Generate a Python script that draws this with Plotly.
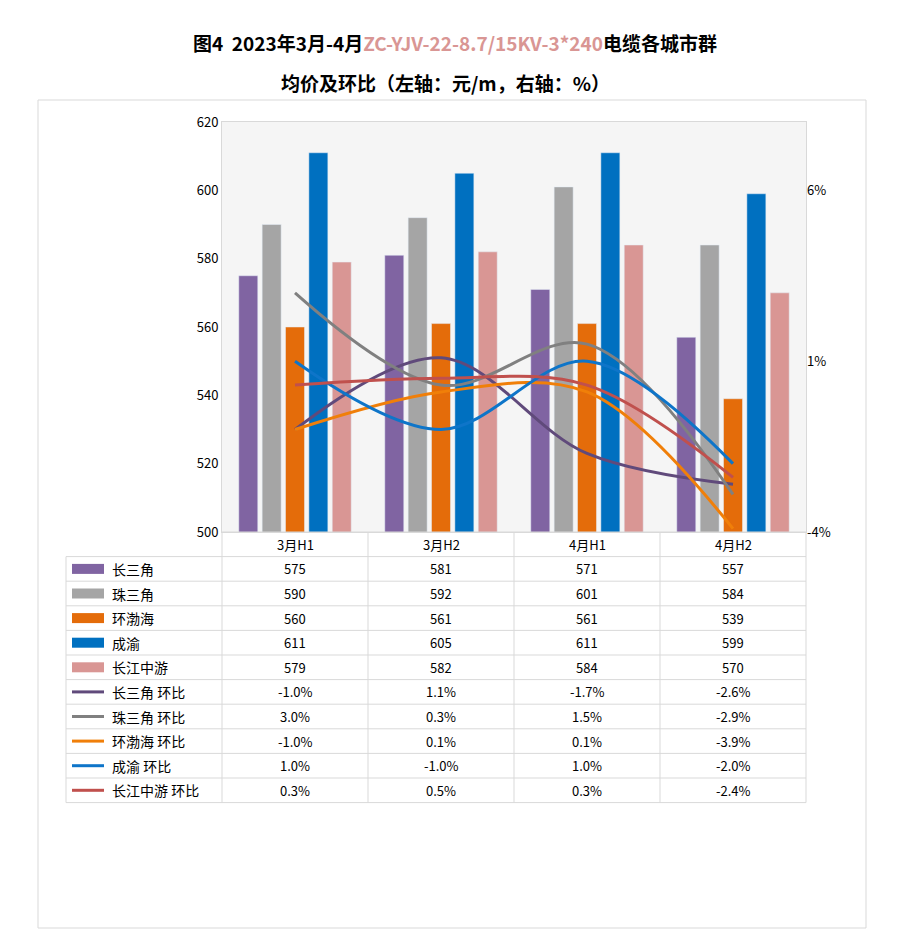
import plotly.graph_objects as go

# data
categories = ["3月H1", "3月H2", "4月H1", "4月H2"]
bar_names = ["长三角", "珠三角", "环渤海", "成渝", "长江中游"]
bar_values = [
    [575, 581, 571, 557],
    [590, 592, 601, 584],
    [560, 561, 561, 539],
    [611, 605, 611, 599],
    [579, 582, 584, 570],
]
line_names = ["长三角 环比", "珠三角 环比", "环渤海 环比", "成渝 环比", "长江中游 环比"]
line_values = [
    [-1.0, 1.1, -1.7, -2.6],
    [3.0, 0.3, 1.5, -2.9],
    [-1.0, 0.1, 0.1, -3.9],
    [1.0, -1.0, 1.0, -2.0],
    [0.3, 0.5, 0.3, -2.4],
]
bar_colors = ["#8064A2", "#A5A5A5", "#E46C0A", "#0070C0", "#D99694"]
line_colors = ["#604A7B", "#808080", "#F07F09", "#0E75C9", "#C0504D"]

FONT = "Noto Sans CJK SC"
W, H = 900, 940
OFF = 8  # page body offset
L, R, T, B = 222, 806, 122, 532


def px(x):
    return (x - L) / (R - L)


def py(y):
    return (B - y) / (B - T)


def label(x, y, text, size=13, xanchor="center"):
    return dict(xref="paper", yref="paper", x=px(x), y=py(y), text=text, showarrow=False,
                xanchor=xanchor, yanchor="middle", font=dict(size=size))


fig = go.Figure()
for name, vals, c in zip(bar_names, bar_values, bar_colors):
    fig.add_trace(go.Bar(x=categories, y=vals, name=name, marker_color=c, width=0.13))
for name, vals, c in zip(line_names, line_values, line_colors):
    fig.add_trace(go.Scatter(x=categories, y=vals, name=name, yaxis="y2", mode="lines",
                             line=dict(color=c, width=3, shape="spline", smoothing=1.0)))

shapes = []
annotations = []

# page frame
shapes.append(dict(type="rect", xref="paper", yref="paper", x0=px(38), x1=px(866), y0=py(928), y1=py(100),
                   line=dict(color="#D9D9D9", width=1), layer="below"))

# table
row_h = 24.6
col_x = [66, 222, 368, 514, 660, 806]
n_rows = 1 + len(bar_names) + len(line_names)
top = B
bottom = B + n_rows * row_h
for i in range(n_rows + 1):
    y = top + i * row_h
    x0 = L if i == 0 else 66
    shapes.append(dict(type="line", xref="paper", yref="paper", x0=px(x0), x1=px(R), y0=py(y), y1=py(y),
                       line=dict(color="#D9D9D9", width=1)))
for j, x in enumerate(col_x):
    y0 = top + row_h if j == 0 else top
    shapes.append(dict(type="line", xref="paper", yref="paper", x0=px(x), x1=px(x), y0=py(y0), y1=py(bottom),
                       line=dict(color="#D9D9D9", width=1)))
for j, cat in enumerate(categories):
    annotations.append(label((col_x[j + 1] + col_x[j + 2]) / 2, top + row_h / 2, cat))

rows = [(n, v, c, "bar") for n, v, c in zip(bar_names, bar_values, bar_colors)]
rows += [(n, v, c, "line") for n, v, c in zip(line_names, line_values, line_colors)]
for i, (name, vals, c, kind) in enumerate(rows):
    yc = top + (i + 1.5) * row_h
    if kind == "bar":
        shapes.append(dict(type="rect", xref="paper", yref="paper", x0=px(72), x1=px(104),
                           y0=py(yc + 5), y1=py(yc - 5), fillcolor=c, line=dict(width=0)))
        texts = [str(v) for v in vals]
    else:
        shapes.append(dict(type="line", xref="paper", yref="paper", x0=px(72), x1=px(104),
                           y0=py(yc), y1=py(yc), line=dict(color=c, width=3)))
        texts = ["%.1f%%" % v for v in vals]
    annotations.append(label(110, yc, name, size=14, xanchor="left"))
    for j, t in enumerate(texts):
        annotations.append(label((col_x[j + 1] + col_x[j + 2]) / 2, yc, t))

# title
annotations.append(label(455, 42, "<b>图4  2023年3月-4月<span style='color:#D99694'>ZC-YJV-22-8.7/15KV-3*240</span>电缆各城市群</b>", size=19))
annotations.append(label(445, 83, "<b>均价及环比（左轴：元/m，右轴：%）</b>", size=19))

fig.update_layout(
    width=W, height=H,
    margin=dict(l=L - OFF, r=W - R + OFF, t=T - OFF, b=H - B + OFF),
    font=dict(family=FONT, color="#000000", size=13),
    paper_bgcolor="white", plot_bgcolor="#F5F5F5",
    showlegend=False, barmode="group", bargap=0.2, bargroupgap=0.1,
    xaxis=dict(showticklabels=False, showline=True, linecolor="#D9D9D9", mirror=True),
    yaxis=dict(range=[500, 620], dtick=20, showgrid=False, showline=True, linecolor="#D9D9D9", mirror=True,
               ticks="", tickfont=dict(size=13)),
    yaxis2=dict(range=[-4, 8], overlaying="y", side="right", tickvals=[-4, 1, 6],
                ticktext=["-4%", "1%", "6%"], showgrid=False, zeroline=False, tickfont=dict(size=13)),
    shapes=shapes, annotations=annotations,
)

fig.write_html("out.html")
